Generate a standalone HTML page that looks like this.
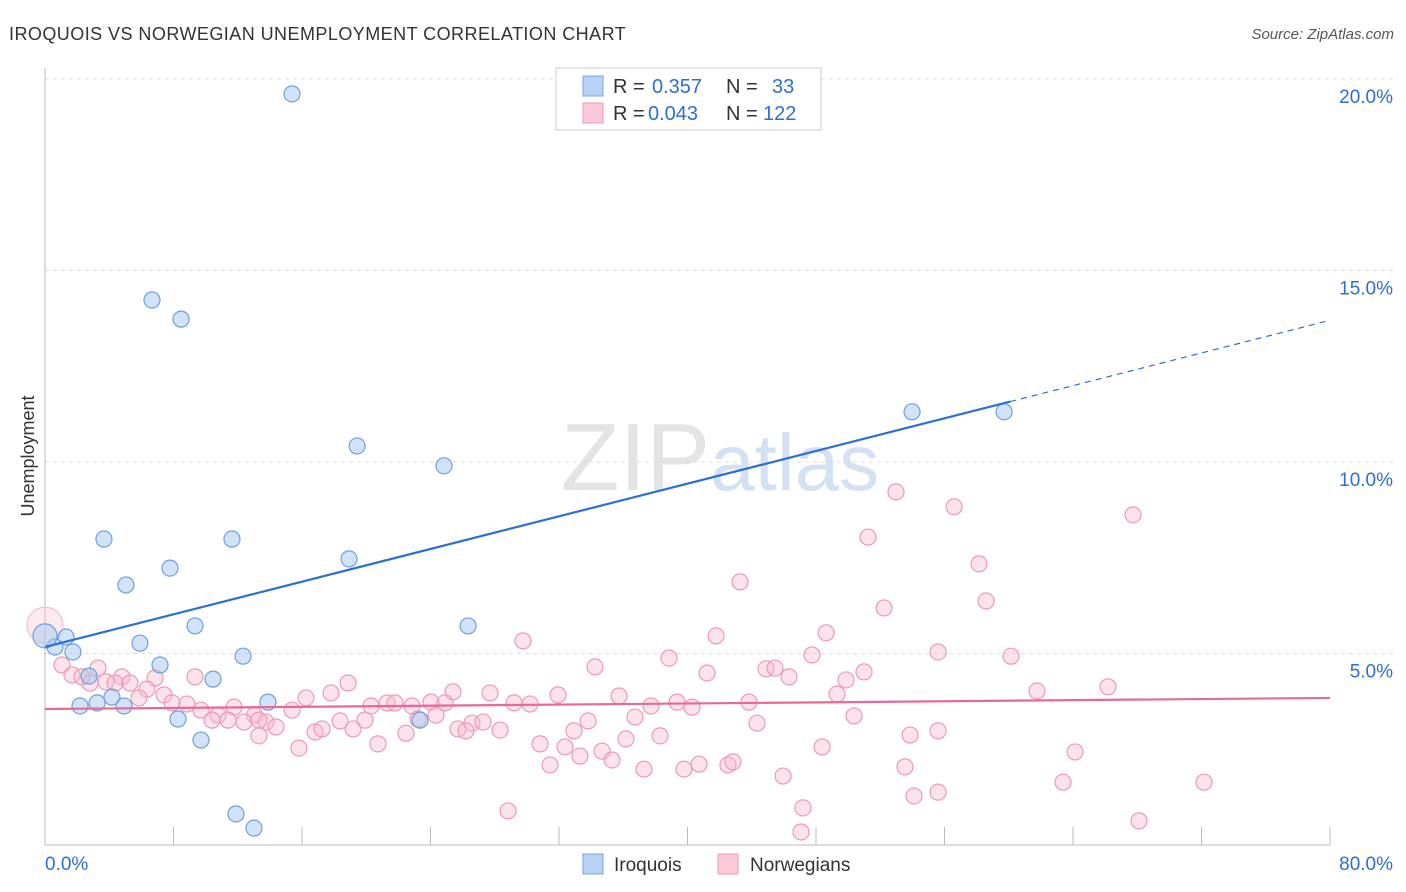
<!DOCTYPE html>
<html><head><meta charset="utf-8"><style>
body{margin:0;background:#fff;font-family:"Liberation Sans",sans-serif;}
#wrap{position:relative;width:1406px;height:892px;overflow:hidden}
svg text{font-family:"Liberation Sans",sans-serif}
</style></head><body>
<div id="wrap">
<svg id="svg" width="1406" height="892">
<text x="9" y="40" font-size="18" letter-spacing="0.45" fill="#333">IROQUOIS VS NORWEGIAN UNEMPLOYMENT CORRELATION CHART</text>
<text x="1394" y="39" font-size="15" fill="#555" font-style="italic" text-anchor="end">Source: ZipAtlas.com</text>
<text x="34" y="456" font-size="18" fill="#333" transform="rotate(-90 34 456)" text-anchor="middle">Unemployment</text>
<text x="720" y="490" font-size="96" fill="#e4e4e4" text-anchor="middle" font-family="Liberation Serif">ZIP<tspan fill="#d3e1f3" font-family="Liberation Sans" font-size="80">atlas</tspan></text>
<g id="grid"></g><g id="marks"></g>
<g>
<rect x="556" y="68" width="265" height="62" fill="#fff" stroke="#ccc"/>
<rect x="583" y="76" width="20" height="20" fill="#b8d2f5" stroke="#7aa7e0"/>
<rect x="583" y="103" width="20" height="20" fill="#fbc9d8" stroke="#ef9ab5"/>
<text x="613" y="93" font-size="20" fill="#333">R =</text>
<text x="652" y="93" font-size="20" fill="#2b6fd6">0.357</text>
<text x="726" y="93" font-size="20" fill="#333">N =</text>
<text x="772" y="93" font-size="20" fill="#2b6fd6">33</text>
<text x="613" y="120" font-size="20" fill="#333">R =</text>
<text x="648" y="120" font-size="20" fill="#2b6fd6">0.043</text>
<text x="726" y="120" font-size="20" fill="#333">N =</text>
<text x="763" y="120" font-size="20" fill="#2b6fd6">122</text>
</g>
<g>
<rect x="583" y="854" width="20" height="20" fill="#b8d2f5" stroke="#7aa7e0"/>
<text x="614" y="871" font-size="19" fill="#333">Iroquois</text>
<rect x="718" y="854" width="20" height="20" fill="#fbc9d8" stroke="#ef9ab5"/>
<text x="750" y="871" font-size="19" fill="#333">Norwegians</text>
</g>
</svg></div>
<script>
const yTicks=[5,10,15,20];
const xTickLabels=["0.0%","80.0%"];
const iroX=[15.38,6.66,8.47,19.43,24.84,3.67,11.64,18.93,7.78,5.04,9.34,26.34,5.91,1.31,0.62,1.74,7.16,12.33,2.74,10.46,4.17,3.24,2.18,4.92,13.88,8.28,23.35,9.71,11.89,13.01,53.98,59.71,0];
const iroY=[19.61,14.23,13.73,10.42,9.90,7.99,7.99,7.47,7.23,6.79,5.72,5.72,5.27,5.43,5.17,5.04,4.70,4.93,4.41,4.33,3.86,3.71,3.63,3.63,3.73,3.29,3.26,2.74,0.81,0.44,11.31,11.31,5.46];
const norX=[52.98,56.6,67.74,51.24,58.15,43.27,58.59,52.24,29.76,41.78,48.63,55.6,60.14,38.85,47.75,34.24,44.89,45.45,50.99,41.22,46.32,49.87,66.18,61.76,49.31,35.74,31.94,27.71,25.4,39.35,43.83,40.28,37.73,30.2,29.2,50.37,36.73,44.33,33.81,32.93,55.6,53.86,38.29,36.17,48.38,34.68,32.37,30.82,64.13,33.3,35.3,31.44,37.29,39.78,40.72,42.52,42.83,53.54,45.95,63.38,72.16,55.6,54.1,47.19,28.83,47.07,68.11,0,1.06,3.3,1.68,2.3,2.8,3.8,4.79,4.36,5.29,6.85,9.34,6.35,7.41,5.85,7.91,8.84,9.71,10.77,11.77,13.05,10.4,11.39,12.39,13.32,13.76,14.38,15.38,16.25,17.81,18.87,15.81,16.81,17.25,18.37,19.18,19.92,20.3,21.3,21.79,22.85,20.73,22.47,24.03,24.34,24.9,23.22,25.71,26.58,27.27,28.33,26.21,13.32];
const norY=[9.22,8.83,8.62,8.04,7.34,6.87,6.37,6.19,5.33,5.46,5.54,5.04,4.93,4.88,4.96,4.65,4.6,4.62,4.52,4.49,4.39,4.31,4.13,4.02,3.94,3.89,3.92,3.97,4.0,3.73,3.73,3.6,3.63,3.68,3.71,3.37,3.34,3.18,3.24,2.98,2.98,2.87,2.85,2.77,2.56,2.45,2.56,2.64,2.43,2.32,2.22,2.09,1.98,1.98,2.11,2.09,2.17,2.04,1.8,1.64,1.64,1.38,1.28,0.97,0.89,0.34,0.63,5.74,4.7,4.62,4.44,4.39,4.23,4.26,4.39,4.23,4.23,4.36,4.39,4.07,3.92,3.84,3.71,3.68,3.52,3.39,3.6,3.39,3.26,3.26,3.21,2.85,3.21,3.08,3.52,3.84,3.97,4.23,2.53,2.95,3.03,3.24,3.03,3.26,3.63,3.71,3.71,3.63,2.64,2.92,3.73,3.39,3.71,3.29,3.03,3.18,3.21,3.0,2.98,3.26];
const iroTrend=[5.17,13.7];
const norTrend=[3.55,3.84];
const NS="http://www.w3.org/2000/svg";
const sx=v=>45+v*1285/80, sy=v=>845-v*38.3;
function mk(t,a,p){const e=document.createElementNS(NS,t);for(const k in a)e.setAttribute(k,a[k]);p.appendChild(e);return e;}
const grid=document.getElementById('grid'),marks=document.getElementById('marks');
yTicks.forEach(t=>{
 const l=mk('line',{x1:45,x2:1394,y1:sy(t),y2:sy(t),stroke:'#ddd','stroke-dasharray':'4,4'},grid);
 
 
 const tx=mk('text',{x:1393,y:sy(t)+24,'font-size':19,fill:'#2b6fd6','text-anchor':'end'},grid);tx.textContent=t.toFixed(1)+'%';
 
 
});
mk('line',{x1:45,x2:45,y1:68,y2:845,stroke:'#bbb'},grid);
mk('line',{x1:45,x2:1330,y1:845,y2:845,stroke:'#bbb'},grid);
for(let i=0;i<=10;i++){mk('line',{x1:sx(i*8),x2:sx(i*8),y1:827,y2:845,stroke:'#bbb'},grid);}
const t0=mk('text',{x:45,y:870,'font-size':19,fill:'#2b6fd6'},grid);t0.textContent=xTickLabels[0];


const t1=mk('text',{x:1393,y:870,'font-size':19,fill:'#2b6fd6','text-anchor':'end'},grid);t1.textContent=xTickLabels[1];


norX.forEach((x,i)=>{const c=mk('circle',{cx:sx(x),cy:sy(norY[i]),r:x==0?18:8,fill:x==0?'rgba(248,185,205,0.3)':'rgba(248,185,205,0.4)',stroke:x==0?'#f4c0d0':'#ec9ab4','stroke-width':1.2},marks);
 
 });
iroX.forEach((x,i)=>{const c=mk('circle',{cx:sx(x),cy:sy(iroY[i]),r:x==0?12:8,fill:'rgba(165,200,242,0.5)',stroke:'#6f9fdc','stroke-width':1.2},marks);
 
 });
const slope=(iroTrend[1]-iroTrend[0])/80, yAt=x=>iroTrend[0]+slope*x;
const b1=mk('line',{x1:sx(0),y1:sy(yAt(0)),x2:sx(60.1),y2:sy(yAt(60.1)),stroke:'#2b6fd6','stroke-width':2.2},marks);


const b2=mk('line',{x1:sx(60.1),y1:sy(yAt(60.1)),x2:sx(80),y2:sy(yAt(80)),stroke:'#2b6fd6','stroke-width':1.2,'stroke-dasharray':'6,5'},marks);


const p1=mk('line',{x1:sx(0),y1:sy(norTrend[0]),x2:sx(80),y2:sy(norTrend[1]),stroke:'#e8689a','stroke-width':2.2},marks);


</script>
</body></html>
